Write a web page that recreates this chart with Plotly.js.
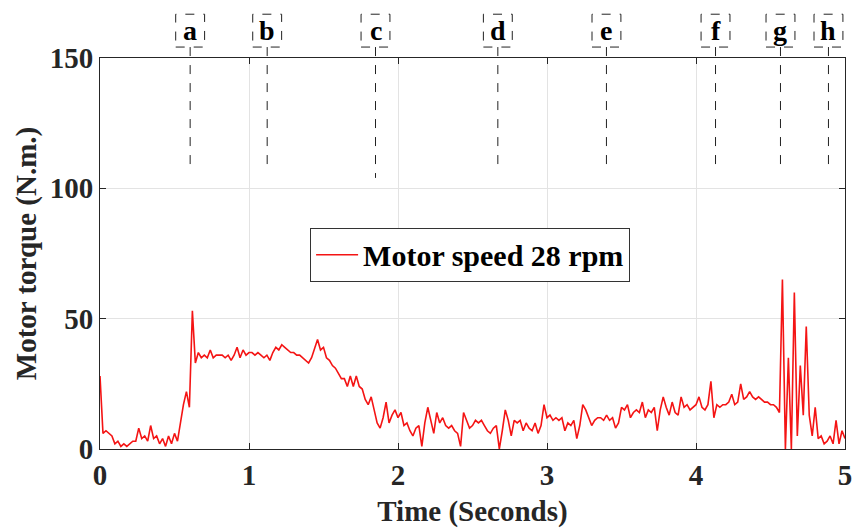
<!DOCTYPE html>
<html>
<head>
<meta charset="utf-8">
<script src="https://cdn.plot.ly/plotly-3.0.1.min.js"></script>
<style>html,body{margin:0;padding:0;background:#fff;}#chart{width:854px;height:529px;}</style>
</head>
<body>
<div id="chart"></div>
<script>
// Time (s)
const timeSec = [
0.00,0.02,0.04,0.06,0.08,0.10,0.12,0.14,0.16,0.18,0.20,0.22,0.24,0.26,0.28,0.30,0.32,0.34,0.36,0.38,0.40,0.42,0.44,0.46,0.48,
0.50,0.52,0.54,0.56,0.58,0.60,0.62,0.64,0.66,0.68,0.70,0.72,0.74,0.76,0.78,0.80,0.82,0.84,0.86,0.88,0.90,0.92,0.94,0.96,0.98,
1.00,1.02,1.04,1.06,1.08,1.10,1.12,1.14,1.16,1.18,1.20,1.22,1.24,1.26,1.28,1.30,1.32,1.34,1.36,1.38,1.40,1.42,1.44,1.46,1.48,
1.50,1.52,1.54,1.56,1.58,1.60,1.62,1.64,1.66,1.68,1.70,1.72,1.74,1.76,1.78,1.80,1.82,1.84,1.86,1.88,1.90,1.92,1.94,1.96,1.98,
2.00,2.02,2.04,2.06,2.08,2.10,2.12,2.14,2.16,2.18,2.20,2.22,2.24,2.26,2.28,2.30,2.32,2.34,2.36,2.38,2.40,2.42,2.44,2.46,2.48,
2.50,2.52,2.54,2.56,2.58,2.60,2.62,2.64,2.66,2.68,2.70,2.72,2.74,2.76,2.78,2.80,2.82,2.84,2.86,2.88,2.90,2.92,2.94,2.96,2.98,
3.00,3.02,3.04,3.06,3.08,3.10,3.12,3.14,3.16,3.18,3.20,3.22,3.24,3.26,3.28,3.30,3.32,3.34,3.36,3.38,3.40,3.42,3.44,3.46,3.48,
3.50,3.52,3.54,3.56,3.58,3.60,3.62,3.64,3.66,3.68,3.70,3.72,3.74,3.76,3.78,3.80,3.82,3.84,3.86,3.88,3.90,3.92,3.94,3.96,3.98,
4.00,4.02,4.04,4.06,4.08,4.10,4.12,4.14,4.16,4.18,4.20,4.22,4.24,4.26,4.28,4.30,4.32,4.34,4.36,4.38,4.40,4.42,4.44,4.46,4.48,
4.50,4.52,4.54,4.56,4.58,4.60,4.62,4.64,4.66,4.68,4.70,4.72,4.74,4.76,4.78,4.80,4.82,4.84,4.86,4.88,4.90,4.92,4.94,4.96,4.98,
5.00];

// Motor torque (N.m.)
const torque = [
28,6,7,6,5,2,3,1,2,1,2,3,3,8,4,5,3,9,4,5,2,4,1,5,2,
6,3,10,17,22,16,53,33,37,35,36,35,38,35,36,36,36,35,36,34,36,39,35,38,36,
37,37,36,37,36,35,36,34,37,39,38,40,39,38,37,37,36,36,35,34,33,35,39,42,38,
39,35,34,32,31,29,27,27,24,28,24,28,24,23,19,17,20,15,10,8,12,18,10,13,15,
12,14,9,10,7,5,8,9,1,10,16,11,6,14,10,12,9,8,9,7,6,1,14,11,8,
9,11,10,11,9,7,6,8,9,0,7,15,11,5,11,10,11,7,10,8,7,10,6,9,17,
12,13,11,12,11,12,7,10,9,11,4,9,17,15,12,9,11,12,12,11,13,11,12,8,10,
16,15,17,12,14,15,14,18,12,15,14,16,7,15,20,16,13,18,14,13,20,16,17,15,16,
17,20,16,15,17,26,12,17,16,17,17,18,21,17,18,25,19,20,22,20,19,20,19,18,18,
17,17,16,14,65,0,35,0,60,5,32,13,47,13,5,16,4,5,2,3,5,2,11,2,7,
4];

// Event markers
const eventLabels = ['a','b','c','d','e','f','g','h'];
const eventTimes = [0.605, 1.122, 1.849, 2.670, 3.399, 4.131, 4.567, 4.889];
const eventLineBottom = [106, 106, 104, 106, 106, 106, 106, 106];

const xTicks = [0, 1, 2, 3, 4, 5];
const yTicks = [0, 50, 100, 150];
const seriesName = 'Motor speed 28 rpm';

const FONT = 'Liberation Serif, Times New Roman, serif';
const INK = '#262626';
const FS = 29;

const trace = {
  x: timeSec, y: torque, type: 'scatter', mode: 'lines',
  name: seriesName,
  line: {color: '#f41414', width: 1.6},
  showlegend: true
};

const shapes = [];
const annotations = [];
const halfBox = 0.097;
eventTimes.forEach((t, i) => {
  shapes.push({type: 'line', xref: 'x', yref: 'paper', x0: t, x1: t,
    y0: 1.028, y1: eventLineBottom[i] / 150,
    line: {color: '#222', width: 1, dash: 'dash'}, layer: 'above'});
  shapes.push({type: 'rect', xref: 'x', yref: 'paper', x0: t - halfBox, x1: t + halfBox,
    y0: 1.028, y1: 1.112,
    line: {color: '#222', width: 1, dash: 'dash'}, fillcolor: 'rgba(0,0,0,0)', layer: 'above'});
  annotations.push({x: t, y: 1.07, xref: 'x', yref: 'paper', text: eventLabels[i],
    showarrow: false, xanchor: 'center', yanchor: 'middle',
    font: {family: FONT, size: 28, color: '#000', weight: 'bold'}});
});

const layout = {
  width: 854, height: 529,
  margin: {l: 100, r: 9, t: 58, b: 80},
  paper_bgcolor: '#fff', plot_bgcolor: '#fff',
  showlegend: true,
  legend: {x: 0.282, y: 0.566, xanchor: 'left', yanchor: 'top',
    bgcolor: '#fff', bordercolor: '#333', borderwidth: 1, itemwidth: 42,
    font: {family: FONT, size: 30, color: '#000', weight: 'bold'}},
  xaxis: {
    range: [0, 5], tickvals: xTicks, ticks: 'inside', ticklen: 6, tickcolor: INK,
    showline: true, linecolor: INK, linewidth: 1, mirror: 'ticks',
    showgrid: true, gridcolor: '#e3e3e3', gridwidth: 1, zeroline: false,
    tickfont: {family: FONT, size: FS, color: INK, weight: 'bold'},
    title: {text: 'Time (Seconds)', standoff: 10,
      font: {family: FONT, size: FS, color: INK, weight: 'bold'}}
  },
  yaxis: {
    range: [0, 150], tickvals: yTicks, ticks: 'inside', ticklen: 6, tickcolor: INK,
    showline: true, linecolor: INK, linewidth: 1, mirror: 'ticks',
    showgrid: true, gridcolor: '#e3e3e3', gridwidth: 1, zeroline: false,
    tickfont: {family: FONT, size: FS, color: INK, weight: 'bold'},
    title: {text: 'Motor torque (N.m.)', standoff: 4,
      font: {family: FONT, size: FS, color: INK, weight: 'bold'}}
  },
  shapes: shapes,
  annotations: annotations
};

Plotly.newPlot('chart', [trace], layout, {staticPlot: true, displayModeBar: false});
</script>
</body>
</html>
